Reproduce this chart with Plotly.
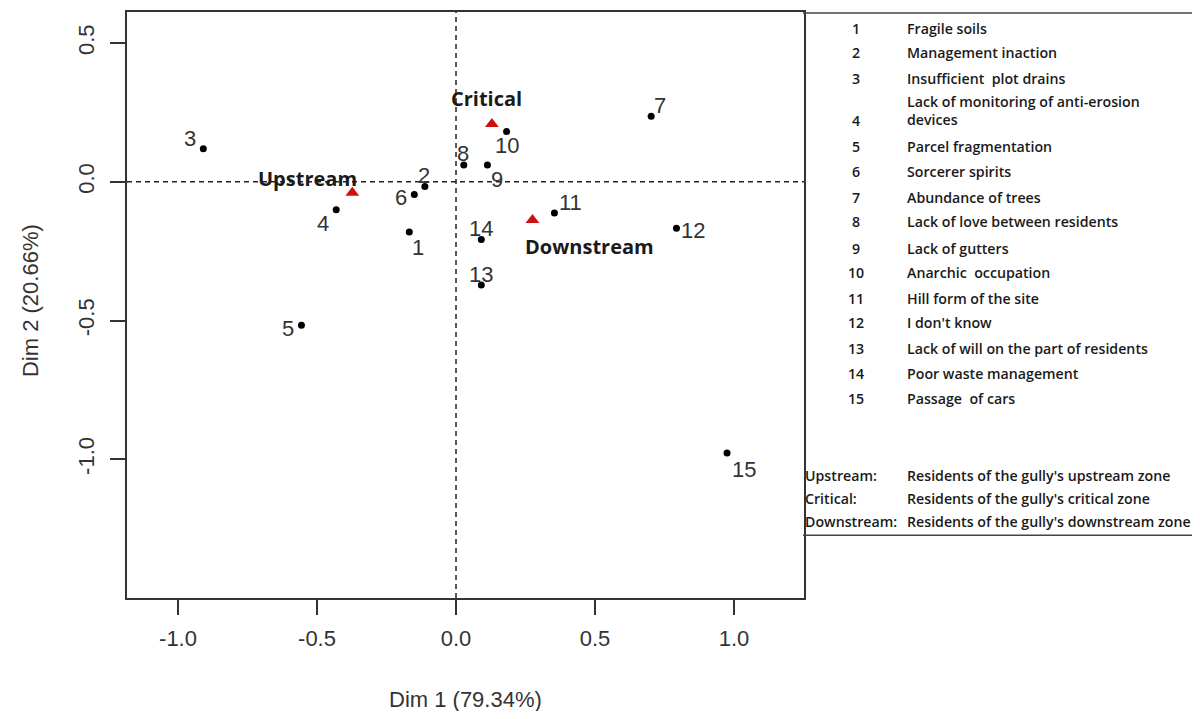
import plotly.graph_objects as go

# ---- data ----
item_ids = ["1", "2", "3", "4", "5", "6", "7", "8", "9", "10", "11", "12", "13", "14", "15"]
dim1 = [-0.168, -0.112, -0.909, -0.431, -0.556, -0.150, 0.702, 0.028, 0.113, 0.182, 0.354, 0.793, 0.091, 0.091, 0.975]
dim2 = [-0.181, -0.017, 0.119, -0.101, -0.517, -0.046, 0.236, 0.061, 0.061, 0.181, -0.112, -0.167, -0.372, -0.208, -0.977]

zones = ["Upstream", "Critical", "Downstream"]
zone_dim1 = [-0.373, 0.129, 0.275]
zone_dim2 = [-0.039, 0.208, -0.138]

item_names = [
    "Fragile soils", "Management inaction", "Insufficient  plot drains",
    "Lack of monitoring of anti-erosion<br>devices", "Parcel fragmentation",
    "Sorcerer spirits", "Abundance of trees", "Lack of love between residents",
    "Lack of gutters", "Anarchic  occupation", "Hill form of the site",
    "I don't know", "Lack of will on the part of residents",
    "Poor waste management", "Passage  of cars",
]
zone_desc = [
    "Residents of the gully's upstream zone",
    "Residents of the gully's critical zone",
    "Residents of the gully's downstream zone",
]
x_ticks = [-1.0, -0.5, 0.0, 0.5, 1.0]
y_ticks = [0.5, 0.0, -0.5, -1.0]
x_title = "Dim 1 (79.34%)"
y_title = "Dim 2 (20.66%)"

# ---- styles / layout (pixel geometry; page body adds an 8px offset) ----
OFF = 8
W, H = 1200 - OFF, 719 - 2 * OFF
L, R, T, B = 127 - OFF, 804 - OFF, 10 - OFF, 598 - OFF
PW, PH = R - L, B - T
xr = [-1.1835, 1.2518]
yr = [-1.500, 0.612]

# label offsets in px (dx right, dy down)
item_off = [(9, 15), (-1, -11), (-13, -10), (-13, 14), (-13, 3), (-13, 3), (9, -11),
            (-1, -11), (10, 15), (0, 14), (16, -10), (17, 2), (0, -11), (0, -11), (17, 17)]
zone_off = [(-45, -14), (-5, -26), (57, 26)]

def pxx(px):
    # reference window pixel -> paper x
    return (px - OFF - L) / PW

def pyy(py):
    return (B - (py - OFF)) / PH

AX_COL = "#333333"
fig = go.Figure()

fig.add_trace(go.Scatter(x=dim1, y=dim2, mode="markers",
                         marker=dict(color="black", size=7), hoverinfo="skip", showlegend=False))
fig.add_trace(go.Scatter(x=zone_dim1, y=zone_dim2, mode="markers",
                         marker=dict(color="#CC1111", size=12, symbol="triangle-up"),
                         hoverinfo="skip", showlegend=False))

ann = []
for i, t in enumerate(item_ids):
    dx, dy = item_off[i]
    ann.append(dict(x=dim1[i], y=dim2[i], text=t, showarrow=False, xshift=dx, yshift=-dy,
                    xanchor="center", yanchor="middle",
                    font=dict(family="Liberation Sans, Arial", size=22, color="#333333")))
for i, t in enumerate(zones):
    dx, dy = zone_off[i]
    ann.append(dict(x=zone_dim1[i], y=zone_dim2[i], text=t, showarrow=False, xshift=dx, yshift=-dy,
                    xanchor="center", yanchor="middle",
                    font=dict(family="Open Sans", size=20, color="#1a1a1a", weight="bold")))

# axis titles
ann.append(dict(xref="paper", yref="paper", x=pxx(465), y=pyy(700), text=x_title, showarrow=False,
                xanchor="center", yanchor="middle",
                font=dict(family="Liberation Sans, Arial", size=22, color="#333333")))
ann.append(dict(xref="paper", yref="paper", x=pxx(30), y=pyy(300), text=y_title, showarrow=False,
                xanchor="center", yanchor="middle", textangle=-90,
                font=dict(family="Liberation Sans, Arial", size=22, color="#333333")))

# legend table
row_y = [27, 51, 77, 119, 145, 170, 196, 220, 247, 271, 297, 322, 348, 373, 398]
leg_font = dict(family="Open Sans", size=14.2, color="#1a1a1a", weight=600)
for i, t in enumerate(item_ids):
    ann.append(dict(xref="paper", yref="paper", x=pxx(856), y=pyy(row_y[i]), text=t,
                    showarrow=False, xanchor="center", yanchor="middle", font=leg_font))
    ny = row_y[i] if i != 3 else 109
    ann.append(dict(xref="paper", yref="paper", x=pxx(905), y=pyy(ny), text=item_names[i],
                    showarrow=False, xanchor="left", yanchor="middle", align="left", font=leg_font))
zone_row_y = [475, 498, 521]
for i, t in enumerate(zones):
    ann.append(dict(xref="paper", yref="paper", x=pxx(803), y=pyy(zone_row_y[i]), text=t + ":",
                    showarrow=False, xanchor="left", yanchor="middle", font=leg_font))
    ann.append(dict(xref="paper", yref="paper", x=pxx(905), y=pyy(zone_row_y[i]), text=zone_desc[i],
                    showarrow=False, xanchor="left", yanchor="middle", font=leg_font))

shapes = [
    dict(type="line", xref="x", yref="paper", x0=0, x1=0, y0=0, y1=1,
         line=dict(color="#222222", width=1.5, dash="5px,4px")),
    dict(type="line", xref="paper", yref="y", x0=0, x1=1, y0=0, y1=0,
         line=dict(color="#222222", width=1.5, dash="5px,4px")),
    # legend box
    dict(type="line", xref="paper", yref="paper", x0=pxx(803), x1=pxx(1200), y0=pyy(11), y1=pyy(11),
         line=dict(color="#444444", width=1.5)),
    dict(type="line", xref="paper", yref="paper", x0=pxx(803), x1=pxx(1200), y0=pyy(535), y1=pyy(535),
         line=dict(color="#444444", width=1.5)),
]

fig.update_layout(
    width=W, height=H,
    margin=dict(l=L, r=W - R, t=T, b=H - B),
    plot_bgcolor="white", paper_bgcolor="white",
    annotations=ann, shapes=shapes,
    xaxis=dict(range=xr, tickvals=x_ticks, ticktext=[f"{v:.1f}" for v in x_ticks],
               showgrid=False, zeroline=False, showline=True, mirror=True, linecolor=AX_COL,
               linewidth=2, ticks="outside", ticklen=15, tickwidth=1.5, tickcolor=AX_COL,
               ticklabelstandoff=5,
               tickfont=dict(family="Liberation Sans, Arial", size=22, color="#333333")),
    yaxis=dict(range=yr, tickvals=y_ticks, ticktext=[f"{v:.1f}" for v in y_ticks],
               showgrid=False, zeroline=False, showline=True, mirror=True, linecolor=AX_COL,
               linewidth=2, ticks="outside", ticklen=15, tickwidth=1.5, tickcolor=AX_COL,
               tickangle=-90, ticklabelstandoff=7,
               tickfont=dict(family="Liberation Sans, Arial", size=22, color="#333333")),
)

fig.write_html("out.html")
